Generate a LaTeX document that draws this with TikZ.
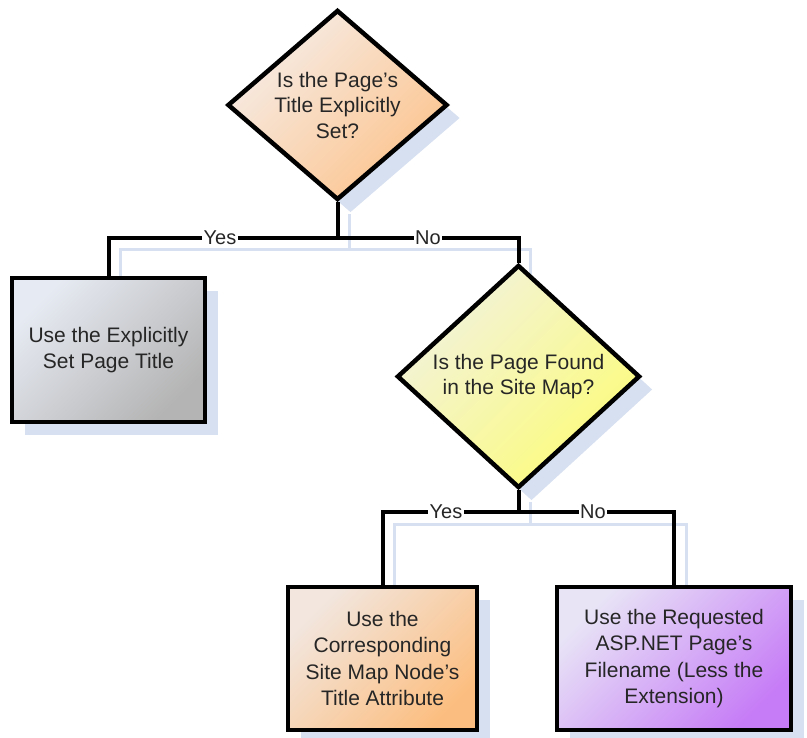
\documentclass[tikz,border=0pt]{standalone}
\usepackage{fontspec}
\setmainfont{Liberation Sans}
\usetikzlibrary{shapes.geometric,shadows,backgrounds}

\definecolor{shadowblue}{HTML}{D6E0F0}
\definecolor{peachlight}{HTML}{F6ECE6}
\definecolor{peachdark}{HTML}{FCC48E}
\definecolor{graylight}{HTML}{E6EAF2}
\definecolor{graydark}{HTML}{B4B4B4}
\definecolor{yellowlight}{HTML}{F2F2DC}
\definecolor{yellowdark}{HTML}{FCFC7C}
\definecolor{orangelight}{HTML}{F2E6DE}
\definecolor{orangedark}{HTML}{FCBE80}
\definecolor{purplelight}{HTML}{E8E4F6}
\definecolor{purpledark}{HTML}{C67CF6}

\tikzset{
  flowshadow/.style={drop shadow={shadow xshift=13pt, shadow yshift=-13pt, fill=shadowblue, opacity=1}},
  actionbox/.style={rectangle, draw=black, line width=4.5pt, flowshadow, align=center,
    text=black!85, font=\fontsize{21}{26.5}\selectfont},
  decision/.style={diamond, draw=black, line width=4.5pt, flowshadow, inner sep=0pt},
  qtext/.style={align=center, text=black!85, font=\fontsize{21}{25.5}\selectfont},
  wire/.style={line width=4pt},
  wireshadow/.style={draw=shadowblue, line width=3pt, transform canvas={shift={(12,12)}}},
  answer/.style={fill=white, inner sep=1.5pt, text=black!85, font=\fontsize{20}{22}\selectfont}
}

\begin{document}
\begin{tikzpicture}[x=1pt, y=-1pt]
  \useasboundingbox (0,0) rectangle (807,738);

  % questions
  \node[decision, minimum width=220pt, minimum height=190pt,
        top color=peachlight, bottom color=peachdark, shading angle=45,
        label={[qtext]center:Is the Page's\\Title Explicitly\\Set?}] (q1) at (337.5,105) {};
  \node[decision, minimum width=243pt, minimum height=223pt,
        top color=yellowlight, bottom color=yellowdark, shading angle=45,
        label={[qtext]center:Is the Page Found\\in the Site Map?}] (q2) at (518.5,376.5) {};

  % outcomes
  \node[actionbox, minimum width=193pt, minimum height=144pt,
        top color=graylight, bottom color=graydark, shading angle=45] (a1) at (108.5,350)
        {Use the Explicitly\\Set Page Title};
  \node[actionbox, minimum width=189pt, minimum height=143pt,
        top color=orangelight, bottom color=orangedark, shading angle=45] (a2) at (382.5,658.5)
        {Use the\\Corresponding\\Site Map Node's\\Title Attribute};
  \node[actionbox, minimum width=234pt, minimum height=143pt,
        top color=purplelight, bottom color=purpledark, shading angle=45] (a3) at (674,658.5)
        {Use the Requested\\ASP.NET Page's\\Filename (Less the\\Extension)};

  % junctions
  \coordinate (j1) at (337.5,238);
  \coordinate (j2) at (518.5,512);

  % shadows of the connectors
  \begin{scope}[on background layer]
    \draw[wireshadow] (q1.south) -- (j1);
    \draw[wireshadow] (a1.north) |- (j1) -| (q2.north);
    \draw[wireshadow] (q2.south) -- (j2);
    \draw[wireshadow] (a2.north) |- (j2) -| (a3.north);
  \end{scope}

  % connectors
  \draw[wire] (q1.south) -- (j1);
  \draw[wire] (a1.north) |- (j1) -| (q2.north);
  \draw[wire] (q2.south) -- (j2);
  \draw[wire] (a2.north) |- (j2) -| (a3.north);

  % answers
  \node[answer] (yes1) at (220,238) {Yes};
  \node[answer] (no1) at (428,238) {No};
  \node[answer] (yes2) at (446,512) {Yes};
  \node[answer] (no2) at (593,512) {No};
\end{tikzpicture}
\end{document}
